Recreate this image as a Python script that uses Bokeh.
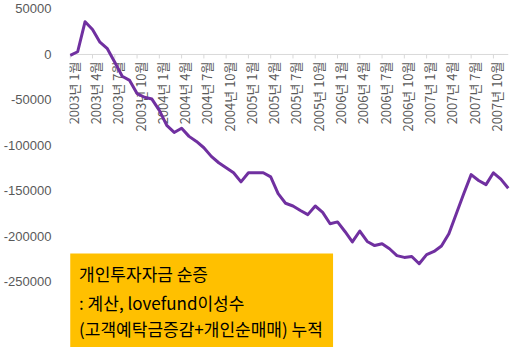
import math
from bokeh.plotting import figure
from bokeh.models import (Range1d, FixedTicker, NumeralTickFormatter, BoxAnnotation,
                          Label, ColumnDataSource)
from bokeh.core.properties import value
from bokeh.embed import file_html
from bokeh.resources import INLINE

# Monthly cumulative values, 2003-01 .. 2007-12
net_flow = [
    -1000, 3000, 36000, 27500, 13500, 6300, -8500, -24000, -28500, -43000, -47000, -49000,
    -61500, -78000, -85700, -81000, -90000, -95600, -102500, -112000, -119000, -124500, -130000, -140000,
    -130000, -130000, -130000, -134500, -153000, -163500, -166500, -171500, -176000, -166500, -173500, -186000,
    -184000, -194500, -206000, -194000, -205500, -210000, -208000, -213500, -221000, -223000, -222000, -230000,
    -220000, -216500, -210500, -197000, -175000, -153000, -132000, -138500, -143000, -130000, -137000, -147000,
]
tick_labels = [
    "2003년 1월", "2003년 4월", "2003년 7월", "2003년 10월",
    "2004년 1월", "2004년 4월", "2004년 7월", "2004년 10월",
    "2005년 1월", "2005년 4월", "2005년 7월", "2005년 10월",
    "2006년 1월", "2006년 4월", "2006년 7월", "2006년 10월",
    "2007년 1월", "2007년 4월", "2007년 7월", "2007년 10월",
]
y_ticks = [50000, 0, -50000, -100000, -150000, -200000, -250000]
note_lines = [
    "개인투자자금 순증",
    ": 계산, lovefund이성수",
    "(고객예탁금증감+개인순매매) 누적",
]

idx = list(range(len(net_flow)))
tick_idx = [i * 3 for i in range(len(tick_labels))]

Y_END, Y_START = 59300, -322000
FRAME_H = 347
px = (Y_END - Y_START) / FRAME_H  # data units per pixel

p = figure(width=510, height=FRAME_H, output_backend="svg", toolbar_location=None,
           x_range=Range1d(-0.1, 59.3), y_range=Range1d(Y_START, Y_END),
           x_axis_location=None, min_border_left=60, min_border_right=0,
           min_border_top=0, min_border_bottom=0)
p.outline_line_color = None
p.grid.visible = False
p.background_fill_color = "white"
p.border_fill_color = "white"

ya = p.yaxis[0]
ya.ticker = FixedTicker(ticks=y_ticks)
ya.formatter = NumeralTickFormatter(format="0")
ya.axis_line_color = None
ya.major_tick_line_color = None
ya.minor_tick_line_color = None
ya.major_label_standoff = 12
ya.major_label_text_font = "Liberation Sans"
ya.major_label_text_font_size = "13px"
ya.major_label_text_color = "#595959"

# note box
box_top = Y_END - 253 * px
p.add_layout(BoxAnnotation(left=0, right=35.4, top=box_top, bottom=None,
                           fill_color="#FFC000", fill_alpha=1.0, line_color=None,
                           level="underlay"))

# zero axis line and ticks
p.segment(x0=[idx[0]], y0=[0], x1=[idx[-1]], y1=[0], line_color="#D9D9D9", line_width=1)
p.segment(x0=tick_idx, y0=[0] * len(tick_idx), x1=tick_idx, y1=[-4 * px] * len(tick_idx),
          line_color="#D9D9D9", line_width=1)

# category labels below the zero line
src = ColumnDataSource(dict(x=tick_idx, y=[-7 * px] * len(tick_idx), t=tick_labels))
p.text(x="x", y="y", text="t", source=src, angle=math.pi / 2, x_offset=3,
       text_align="right", text_baseline="middle",
       text_font=value("Noto Sans CJK KR"), text_font_size="13px", text_color="#595959")

# data line
p.line(idx, net_flow, line_color="#7030A0", line_width=3, line_join="round")

line_py = [273, 302, 328]
for t, py in zip(note_lines, line_py):
    p.add_layout(Label(x=1.19, y=Y_END - py * px, text=t, text_baseline="middle",
                       text_font="Noto Sans CJK KR", text_font_size="17px",
                       text_color="#000000"))

open("out.html", "w").write(file_html(p, INLINE))
